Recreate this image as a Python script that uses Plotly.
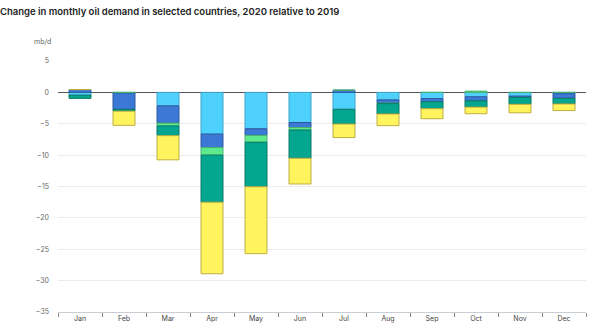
import plotly.graph_objects as go

months = ["Jan", "Feb", "Mar", "Apr", "May", "Jun", "Jul", "Aug", "Sep", "Oct", "Nov", "Dec"]

series_a = [-0.45, -0.1, -2.15, -6.65, -5.8, -4.8, -2.7, -1.2, -1.0, -0.7, -0.6, -0.2]
series_b = [0.45, -2.6, -2.75, -2.15, -1.05, -0.8, 0.35, -0.5, -0.5, -0.65, -0.2, -0.75]
series_c = [0.0, 0.0, -0.45, -1.2, -1.1, -0.4, 0.0, -0.1, 0.0, 0.2, 0.0, 0.0]
series_d = [-0.5, -0.3, -1.55, -7.5, -7.1, -4.5, -2.35, -1.65, -1.1, -1.0, -1.1, -0.9]
series_e = [0.0, -2.25, -3.85, -11.4, -10.65, -4.1, -2.15, -1.85, -1.6, -1.05, -1.35, -1.05]

names = ["Series A", "Series B", "Series C", "Series D", "Series E"]
fills = ["#4FD1FD", "#3C78D6", "#5FEA8E", "#04A68F", "#FFF35E"]
edges = ["#3FA3CC", "#2D5A9E", "#47B26C", "#067A66", "#BFAF40"]

fig = go.Figure()
for name, vals, fc, ec in zip(names, [series_a, series_b, series_c, series_d, series_e], fills, edges):
    fig.add_trace(go.Bar(
        x=months, y=vals, name=name,
        marker=dict(color=fc, line=dict(color=ec, width=1)),
    ))

fig.update_layout(
    barmode="relative",
    bargap=0.5,
    width=600, height=334,
    margin=dict(l=58, r=14, t=61, b=22),
    plot_bgcolor="white", paper_bgcolor="white",
    showlegend=False,
    font=dict(family="Inter, Lato, sans-serif", size=7, color="#555"),
    title=dict(
        text="Change in monthly oil demand in selected countries, 2020 relative to 2019",
        x=0.0, xref="paper", xanchor="left", y=0.975, yanchor="top",
        font=dict(family="Inter, Lato, sans-serif", size=9.5, color="#222", weight=600),
        pad=dict(l=0),
    ),
    xaxis=dict(
        showgrid=False, showline=True, linecolor="#c8cdd6", linewidth=1,
        ticks="outside", tickson="boundaries", ticklen=4, tickcolor="#888",
        tickfont=dict(size=7, color="#444"),
    ),
    yaxis=dict(
        range=[-35, 5], tickvals=[5, 0, -5, -10, -15, -20, -25, -30, -35],
        showgrid=True, gridcolor="#ececec", gridwidth=1,
        zeroline=True, zerolinecolor="#555", zerolinewidth=1,
        showline=False, ticks="", ticklabelstandoff=8,
        tickfont=dict(size=7, color="#666"),
    ),
    annotations=[dict(
        text="mb/d", x=0, xref="paper", xanchor="right", xshift=-5,
        y=1 + 20 / 251, yref="paper", yanchor="middle",
        showarrow=False, font=dict(size=7, color="#666"),
    )],
)
fig.layout.title.x = 0
fig.update_layout(title_xref="container", title_x=0.0)

fig.write_html("out.html")
